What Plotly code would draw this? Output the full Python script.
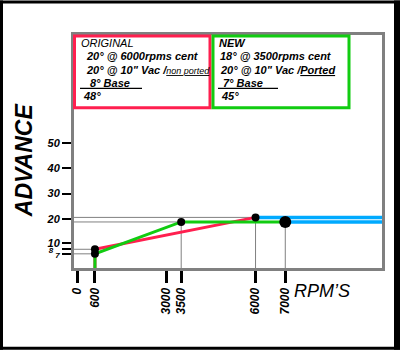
import plotly.graph_objects as go

# ---------------- data ----------------
orig_rpm = [600, 600, 6000]
orig_adv = [0, 8, 20.6]
new_rpm = [600, 600, 3500, 7000]
new_adv = [0, 6.2, 18.8, 18.8]
orig_dot_rpm = [600, 6000]
orig_dot_adv = [8, 20.6]
new_dot_rpm = [600, 3500]
new_dot_adv = [6.2, 18.8]
end_dot_rpm = [7000]
end_dot_adv = [18.8]
x_tick_vals = [0, 600, 3000, 3500, 6000, 7000]
x_tick_text = ["0", "600", "3000", "3500", "6000", "7000"]
y_tick_vals = [6.2, 8, 10.6, 20, 30, 40, 50]
y_tick_text = ["<span style='font-size:8px'>7</span>",
               "<span style='font-size:8px'>8\u00a0\u00a0\u00a0</span>",
               "10", "20", "30", "40", "50"]

X_RANGE = [-104, 10252]
Y_RANGE = [0.6, 92.7]

W, H = 400, 350
ML, MR, MT, MB = 74, 18, 34.5, 82
PW = W - ML - MR
PH = H - MT - MB


def px(x):
    return (x - ML) / PW


def py(y):
    return (H - MB - y) / PH


RED = "#ff1f4f"
GREEN = "#11cc11"
BLUE = "#00aaff"
GRAY = "#808080"
FONT = "Liberation Sans"

fig = go.Figure()

# reference (gray) lines
ref_pts = list(zip(orig_dot_rpm + new_dot_rpm, orig_dot_adv + new_dot_adv))
for xv, yv in ref_pts:
    fig.add_trace(go.Scatter(x=[X_RANGE[0], xv], y=[yv, yv], mode="lines",
                             line=dict(color=GRAY, width=1), hoverinfo="skip"))
for xv, yv in [(3500, 18.8), (6000, 20.6), (7000, 18.8)]:
    fig.add_trace(go.Scatter(x=[xv, xv], y=[0, yv], mode="lines",
                             line=dict(color=GRAY, width=1), hoverinfo="skip"))

# blue continuation lines
fig.add_trace(go.Scatter(x=[orig_rpm[-1], X_RANGE[1]], y=[orig_adv[-1], orig_adv[-1]],
                         mode="lines", line=dict(color=BLUE, width=3.5)))
fig.add_trace(go.Scatter(x=[new_rpm[-1], X_RANGE[1]], y=[new_adv[-1], new_adv[-1]],
                         mode="lines", line=dict(color=BLUE, width=3.5)))

# curves
fig.add_trace(go.Scatter(x=orig_rpm, y=orig_adv, mode="lines",
                         line=dict(color=RED, width=3)))
fig.add_trace(go.Scatter(x=new_rpm, y=new_adv, mode="lines",
                         line=dict(color=GREEN, width=3)))

# dots
fig.add_trace(go.Scatter(x=orig_dot_rpm + new_dot_rpm, y=orig_dot_adv + new_dot_adv,
                         mode="markers", marker=dict(color="black", size=8)))
fig.add_trace(go.Scatter(x=end_dot_rpm, y=end_dot_adv, mode="markers",
                         marker=dict(color="black", size=12)))

shapes = []
# outer black border
for x0, x1, y0, y1 in [(0, 3, 0, 350), (394, 400, 0, 350), (0, 400, 0, 3), (0, 400, 347, 350)]:
    shapes.append(dict(type="rect", xref="paper", yref="paper",
                       x0=px(x0), x1=px(x1), y0=py(y1), y1=py(y0),
                       fillcolor="black", line=dict(width=0)))
# legend boxes
shapes.append(dict(type="rect", xref="paper", yref="paper",
                   x0=px(74.5), x1=px(210), y0=py(107.5), y1=py(35.5),
                   line=dict(color=RED, width=3), fillcolor="white", layer="above"))
shapes.append(dict(type="rect", xref="paper", yref="paper",
                   x0=px(213), x1=px(349), y0=py(107.5), y1=py(35.5),
                   line=dict(color=GREEN, width=3), fillcolor="white", layer="above"))
# underlines of base lines
shapes.append(dict(type="line", xref="paper", yref="paper",
                   x0=px(80), x1=px(142), y0=py(88), y1=py(88),
                   line=dict(color="black", width=1.2), layer="above"))
shapes.append(dict(type="line", xref="paper", yref="paper",
                   x0=px(218), x1=px(278), y0=py(88), y1=py(88),
                   line=dict(color="black", width=1.2), layer="above"))

annotations = []


def note(x, y, text, size=11, bold=True, italic=True, angle=0, xanchor="left"):
    annotations.append(dict(
        x=px(x), y=py(y), xref="paper", yref="paper", text=text, showarrow=False,
        xanchor=xanchor, yanchor="middle", textangle=angle,
        font=dict(family=FONT, size=size, color="black",
                  weight="bold" if bold else "normal",
                  style="italic" if italic else "normal")))


note(79, 43, "ORIGINAL", bold=False)
note(84, 56, "20° @ 6000rpms cent")
note(84, 70, "20° @ 10\" Vac /<span style='font-size:9px;font-weight:normal'><u>non ported</u></span>")
note(88, 83, "8° Base")
note(81, 96, "48°")
note(217, 43, "NEW")
note(218, 56, "18° @ 3500rpms cent")
note(218, 70, "20° @ 10\" Vac /<u>Ported</u>")
note(221, 83, "7° Base")
note(219, 96, "45°")
note(24, 160, "ADVANCE", size=23, angle=-90, xanchor="center")
note(292, 291, "RPM’S", size=18, bold=False)

fig.update_layout(
    width=W, height=H,
    margin=dict(l=ML, r=MR, t=MT, b=MB),
    paper_bgcolor="white", plot_bgcolor="white",
    showlegend=False,
    shapes=shapes, annotations=annotations,
    xaxis=dict(range=X_RANGE, tickmode="array", tickvals=x_tick_vals, ticktext=x_tick_text,
               tickangle=-90, ticks="outside", ticklen=12, tickwidth=3, tickcolor="black",
               showgrid=False, zeroline=False, showline=True, linecolor=GRAY, linewidth=3,
               mirror=True, fixedrange=True,
               tickfont=dict(family=FONT, size=12, color="black", weight="bold", style="italic")),
    yaxis=dict(range=Y_RANGE, tickmode="array", tickvals=y_tick_vals, ticktext=y_tick_text,
               ticks="outside", ticklen=9, tickwidth=1.5, tickcolor="black",
               showgrid=False, zeroline=False, showline=True, linecolor=GRAY, linewidth=3,
               mirror=True, fixedrange=True,
               tickfont=dict(family=FONT, size=11, color="black", weight="bold", style="italic")),
)

fig.write_html("out.html", config={"displayModeBar": False})
